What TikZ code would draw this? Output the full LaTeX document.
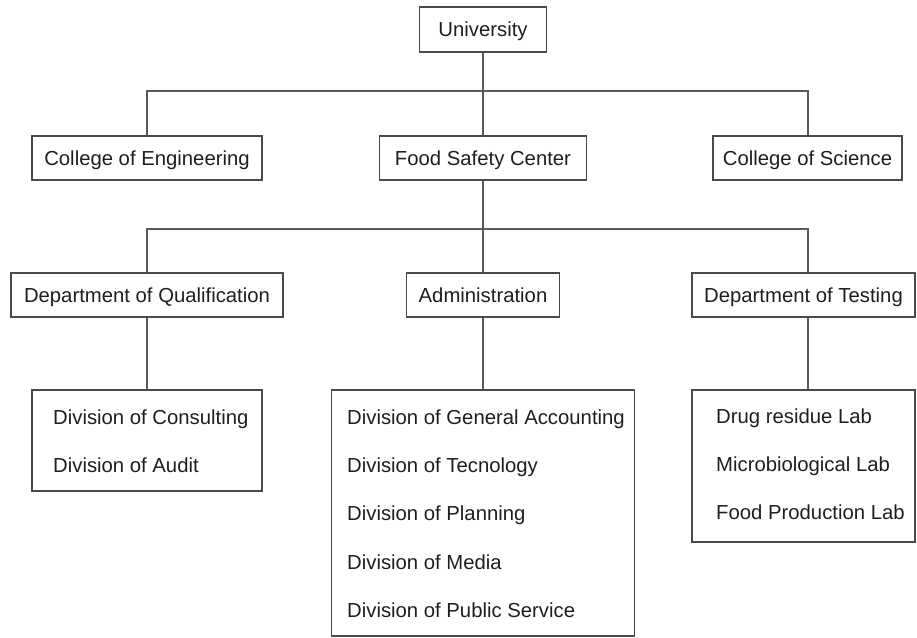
\documentclass[tikz,border=0pt]{standalone}
\usepackage{fontspec}
\setmainfont{Liberation Sans}
\definecolor{boxline}{HTML}{4A4A4A}
\definecolor{conn}{HTML}{5A5A5A}
\definecolor{txt}{HTML}{1E1E1E}
\begin{document}
\begin{tikzpicture}[x=1pt,y=-1pt,
  box/.style={draw=boxline, line width=1.2pt, rectangle, inner sep=0pt, text height=14.5pt, text depth=0pt, font=\fontsize{20.3}{24}\selectfont, text=txt},
  frame/.style={draw=boxline, line width=1.2pt, rectangle, inner sep=0pt},
  item/.style={anchor=west, inner sep=0pt, text height=14.5pt, text depth=0pt, font=\fontsize{20.3}{24}\selectfont, text=txt},
  link/.style={draw=conn, line width=1.2pt}]
\useasboundingbox (0,0) rectangle (917,637);
% level 0
\node[box, minimum width=127pt, minimum height=45pt] (U) at (483,29.5) {University};
% level 1
\node[box, minimum width=230pt, minimum height=44pt] (CoE) at (147,158) {College of Engineering};
\node[box, minimum width=207pt, minimum height=44pt] (FSC) at (483,158) {Food Safety Center};
\node[box, minimum width=189pt, minimum height=44pt] (CoS) at (807.5,158) {College of Science};
% level 2
\node[box, minimum width=272pt, minimum height=44pt] (DQ) at (147,295) {Department of Qualification};
\node[box, minimum width=153pt, minimum height=44pt] (Adm) at (483,295) {Administration};
\node[box, minimum width=223pt, minimum height=44pt] (DT) at (803.5,295) {Department of Testing};
% level 3 boxes
\node[frame, minimum width=230pt, minimum height=101pt] (L) at (147,440.5) {};
\node[frame, minimum width=303pt, minimum height=246pt] (M) at (483,513) {};
\node[frame, minimum width=223pt, minimum height=152pt] (R) at (803.5,466) {};
% level 3 items
\node[item] (l1) at (53,417) {Division of Consulting};
\node[item] (l2) at (53,465) {Division of Audit};
\node[item] (m1) at (347,417) {Division of General Accounting};
\node[item] (m2) at (347,465) {Division of Tecnology};
\node[item] (m3) at (347,513) {Division of Planning};
\node[item] (m4) at (347,562) {Division of Media};
\node[item] (m5) at (347,610) {Division of Public Service};
\node[item] (r1) at (716,416) {Drug residue Lab};
\node[item] (r2) at (716,464) {Microbiological Lab};
\node[item] (r3) at (716,512) {Food Production Lab};
% junctions
\coordinate (h1L) at (147,91);
\coordinate (h1R) at (808,91);
\coordinate (h2L) at (147,229);
\coordinate (h2R) at (808,229);
% connectors
\draw[link] (U.south) -- (FSC.north);
\draw[link] (CoE.north) -- (h1L) -- (h1R) -- (h1R |- CoS.north);
\draw[link] (FSC.south) -- (Adm.north);
\draw[link] (DQ.north) -- (h2L) -- (h2R) -- (h2R |- DT.north);
\draw[link] (DQ.south) -- (L.north);
\draw[link] (Adm.south) -- (M.north);
\draw[link] (h2R |- DT.south) -- (h2R |- R.north);
\end{tikzpicture}
\end{document}
